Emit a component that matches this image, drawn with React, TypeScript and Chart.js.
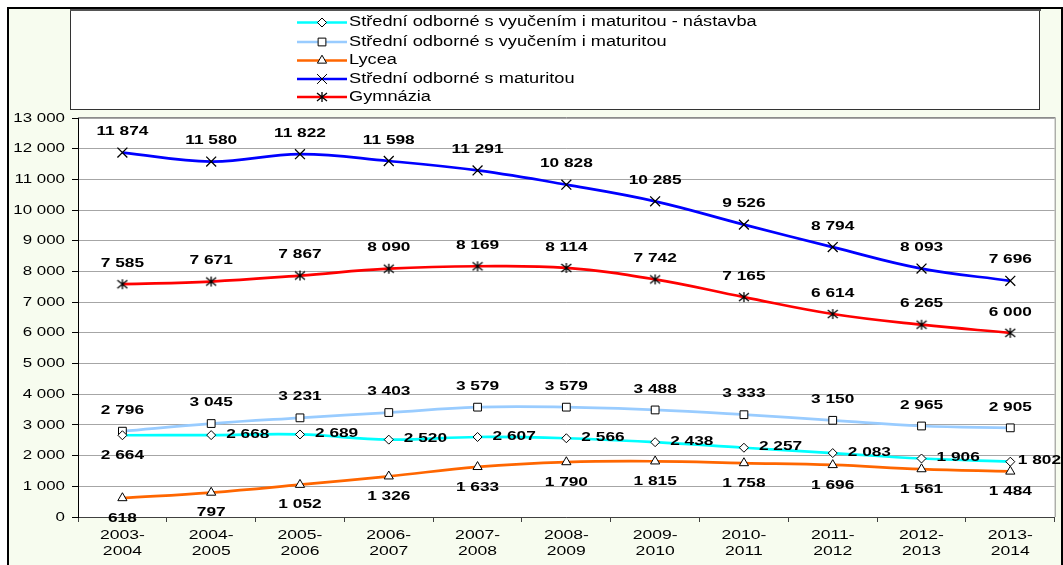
import React, { useEffect, useRef } from 'react';
import { Chart, registerables } from 'chart.js';
import { drawPoint } from 'chart.js/helpers';

Chart.register(...registerables);

const categories = [
  '2003-2004', '2004-2005', '2005-2006', '2006-2007', '2007-2008', '2008-2009',
  '2009-2010', '2010-2011', '2011-2012', '2012-2013', '2013-2014',
];

const seriesNames = [
  'Střední odborné s vyučením i maturitou - nástavba',
  'Střední odborné s vyučením i maturitou',
  'Lycea',
  'Střední odborné s maturitou',
  'Gymnázia',
];

const nastavba = [2664, 2668, 2689, 2520, 2607, 2566, 2438, 2257, 2083, 1906, 1802];
const vyucenim = [2796, 3045, 3231, 3403, 3579, 3579, 3488, 3333, 3150, 2965, 2905];
const lycea = [618, 797, 1052, 1326, 1633, 1790, 1815, 1758, 1696, 1561, 1484];
const maturitou = [11874, 11580, 11822, 11598, 11291, 10828, 10285, 9526, 8794, 8093, 7696];
const gymnazia = [7585, 7671, 7867, 8090, 8169, 8114, 7742, 7165, 6614, 6265, 6000];

const yMin = 0;
const yMax = 13000;
const yStep = 1000;

const FONT = "'Liberation Sans', Arial, sans-serif";
const SX = 1.3; // horizontal text stretch of the original

const fmt = (v: number) => String(v).replace(/\B(?=(\d{3})+(?!\d))/g, ' ');

function drawText(
  ctx: CanvasRenderingContext2D,
  text: string,
  x: number,
  y: number,
  align: 'left' | 'center' | 'right',
  font: string,
  maxRight?: number,
) {
  ctx.save();
  ctx.font = font;
  ctx.textBaseline = 'middle';
  ctx.textAlign = 'left';
  const w = ctx.measureText(text).width * SX;
  let left = align === 'left' ? x : align === 'center' ? x - w / 2 : x - w;
  if (maxRight !== undefined && left + w > maxRight) left = maxRight - w;
  ctx.translate(left, y);
  ctx.scale(SX, 1);
  ctx.fillStyle = '#000';
  ctx.fillText(text, 0, 0);
  ctx.restore();
}

function makeAsterisk() {
  const c = document.createElement('canvas');
  c.width = 12;
  c.height = 12;
  const g = c.getContext('2d')!;
  g.strokeStyle = '#000';
  g.lineWidth = 1.3;
  g.beginPath();
  g.moveTo(1, 2);
  g.lineTo(11, 10);
  g.moveTo(11, 2);
  g.lineTo(1, 10);
  g.moveTo(6, 1);
  g.lineTo(6, 11);
  g.stroke();
  return c;
}

// label placement per dataset index
const placement = (di: number, i: number): 'above' | 'below' | 'right' => {
  if (di === 0) return i === 0 ? 'below' : 'right';
  if (di === 2) return 'below';
  return 'above';
};

const backgroundPlugin = {
  id: 'frameBg',
  beforeDraw(chart: any) {
    const { ctx, chartArea: a } = chart;
    ctx.save();
    ctx.fillStyle = '#ffffff';
    ctx.fillRect(0, 0, chart.width, chart.height);
    ctx.fillStyle = '#F7FCEF';
    ctx.fillRect(9, 9, 1052, 556);
    ctx.fillStyle = '#000';
    ctx.fillRect(7, 7, 1056, 2);
    ctx.fillRect(7, 7, 2, 558);
    ctx.fillRect(1061, 7, 2, 558);
    // legend box
    ctx.fillStyle = '#fff';
    ctx.fillRect(70, 10, 970, 100);
    ctx.strokeStyle = '#333';
    ctx.lineWidth = 1;
    ctx.strokeRect(70.5, 10.5, 969, 99);
    ctx.fillStyle = '#555';
    ctx.fillRect(70, 9, 971, 2);
    // plot area
    ctx.fillStyle = '#fff';
    ctx.fillRect(a.left, a.top - 1, a.right - a.left, a.bottom - a.top + 1);
    ctx.strokeStyle = '#8c8c8c';
    ctx.beginPath();
    ctx.moveTo(a.left, a.top - 0.5);
    ctx.lineTo(a.right + 0.5, a.top - 0.5);
    ctx.lineTo(a.right + 0.5, a.bottom);
    ctx.stroke();
    ctx.restore();
  },
};

const labelsPlugin = {
  id: 'valueLabels',
  afterDatasetsDraw(chart: any) {
    const ctx = chart.ctx;
    const font = `bold 13.3px ${FONT}`;
    chart.data.datasets.forEach((ds: any, di: number) => {
      const meta = chart.getDatasetMeta(di);
      meta.data.forEach((pt: any, i: number) => {
        const txt = fmt(ds.data[i]);
        const p = placement(di, i);
        if (p === 'above') drawText(ctx, txt, pt.x, pt.y - 21, 'center', font);
        else if (p === 'below') drawText(ctx, txt, pt.x, pt.y + 20, 'center', font);
        else drawText(ctx, txt, pt.x + 15, pt.y - 1, 'left', font, 1061);
      });
    });
  },
};

const axisTextPlugin = {
  id: 'axisText',
  afterDraw(chart: any) {
    const ctx = chart.ctx;
    const ys = chart.scales.y;
    const xs = chart.scales.x;
    ys.ticks.forEach((t: any) => {
      drawText(ctx, fmt(t.value), 65, ys.getPixelForValue(t.value), 'right', `13px ${FONT}`);
    });
    chart.data.labels.forEach((lab: string, i: number) => {
      const x = xs.getPixelForTick(i);
      const parts = lab.split('-');
      drawText(ctx, parts[0] + '-', x, 535, 'center', `13.5px ${FONT}`);
      drawText(ctx, parts[1], x, 551, 'center', `13.5px ${FONT}`);
    });
  },
};

const legendPlugin = {
  id: 'customLegend',
  afterDraw(chart: any) {
    const ctx = chart.ctx;
    const rows = [22.5, 42, 60.5, 79, 97];
    chart.data.datasets.forEach((ds: any, di: number) => {
      const y = rows[di];
      ctx.save();
      ctx.strokeStyle = ds.borderColor;
      ctx.lineWidth = 2.5;
      ctx.beginPath();
      ctx.moveTo(297, y);
      ctx.lineTo(347, y);
      ctx.stroke();
      ctx.fillStyle = '#fff';
      ctx.strokeStyle = '#000';
      ctx.lineWidth = 1;
      drawPoint(ctx, { pointStyle: ds.pointStyle, radius: ds.pointRadius, rotation: 0, borderWidth: 1 } as any, 322, y);
      ctx.restore();
      drawText(ctx, ds.label, 349, y, 'left', `14px ${FONT}`);
    });
  },
};

export default function App() {
  const ref = useRef<HTMLCanvasElement>(null);

  useEffect(() => {
    document.body.style.margin = '0';
    const canvas = ref.current!;
    const asterisk = makeAsterisk();
    const common = {
      borderWidth: 2.7,
      tension: 0.4,
      pointBackgroundColor: '#fff',
      pointBorderColor: '#000',
      pointBorderWidth: 1,
      fill: false,
    };
    const chart = new Chart(canvas, {
      type: 'line',
      data: {
        labels: categories,
        datasets: [
          { ...common, label: seriesNames[0], data: nastavba, borderColor: '#00FFFF', pointStyle: 'rectRot', pointRadius: 4.5 },
          { ...common, label: seriesNames[1], data: vyucenim, borderColor: '#99CCFF', pointStyle: 'rect', pointRadius: 5.5 },
          { ...common, label: seriesNames[2], data: lycea, borderColor: '#FF6600', pointStyle: 'triangle', pointRadius: 5.3 },
          { ...common, label: seriesNames[3], data: maturitou, borderColor: '#0000FF', pointStyle: 'crossRot', pointRadius: 7, pointBorderWidth: 1.3 },
          { ...common, label: seriesNames[4], data: gymnazia, borderColor: '#FF0000', pointStyle: asterisk as any, pointRadius: 6 },
        ],
      },
      options: {
        responsive: false,
        maintainAspectRatio: false,
        animation: false,
        devicePixelRatio: 1,
        layout: { padding: { top: 118, right: 4, left: 0, bottom: 0 } },
        plugins: {
          legend: { display: false },
          tooltip: { enabled: false },
          title: { display: false },
        },
        scales: {
          x: {
            type: 'category',
            offset: true,
            grid: {
              display: true,
              drawOnChartArea: false,
              drawTicks: true,
              tickLength: 5,
              offset: true,
              color: '#404040',
              tickColor: '#404040',
            },
            border: { display: true, color: '#404040', width: 1 },
            ticks: { display: false },
            afterFit: (s: any) => { s.height = 48; },
          },
          y: {
            min: yMin,
            max: yMax,
            ticks: { display: false, stepSize: yStep },
            grid: { color: '#a6a6a6', tickColor: '#000', tickLength: 6, drawTicks: true },
            border: { display: true, color: '#000', width: 1 },
            afterFit: (s: any) => { s.width = 78; },
          },
        },
      },
      plugins: [backgroundPlugin, labelsPlugin, axisTextPlugin, legendPlugin],
    } as any);
    return () => chart.destroy();
  }, []);

  return <canvas ref={ref} width={1063} height={565} style={{ display: 'block' }} />;
}
